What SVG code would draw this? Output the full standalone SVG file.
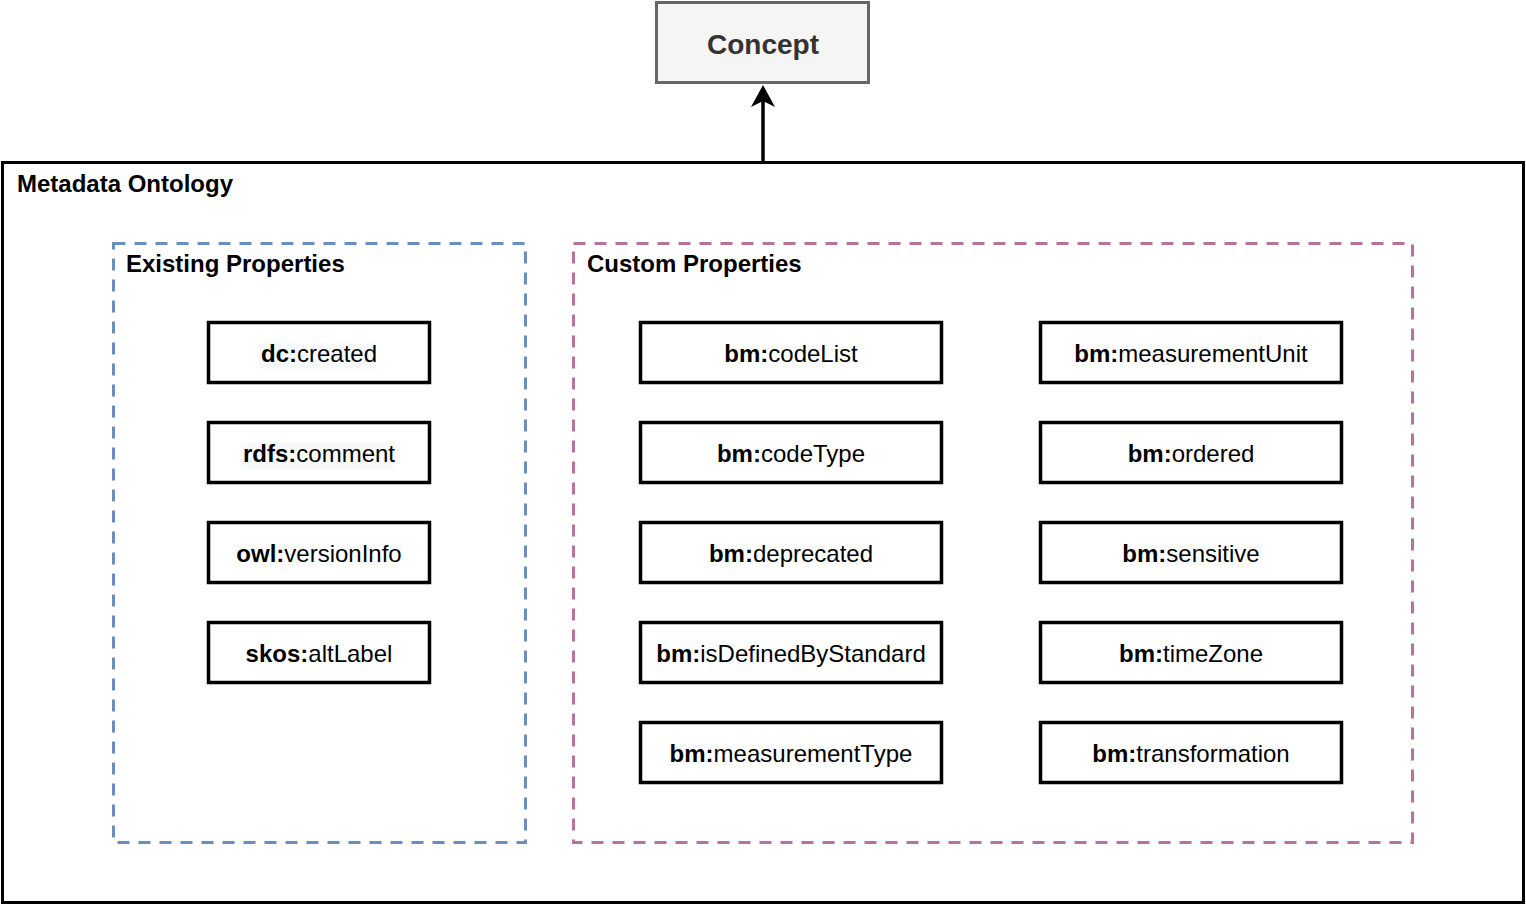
<svg xmlns="http://www.w3.org/2000/svg" width="1526" height="904" viewBox="0 0 1526 904">
  <style>
    text { font-family: "Liberation Sans", Arial, sans-serif; fill: #000; }
    .title { font-size: 24px; font-weight: bold; }
    .lbl { font-size: 24px; text-anchor: middle; }
    .lbl tspan.b { font-weight: bold; }
    .prop { fill: #fff; stroke: #000; stroke-width: 3.5; }
    .hl { fill: #f8f9fa; }
  </style>
  <defs>
    <!-- classic arrowhead pointing along +x, tip at x=22 -->
    <marker id="arrowHead" viewBox="0 0 22 24" refX="7" refY="12" markerWidth="22" markerHeight="24" markerUnits="userSpaceOnUse" orient="auto">
      <path d="M22 12 L0 0 L6 12 L0 24 Z" fill="#000"/>
    </marker>
  </defs>
  <rect width="1526" height="904" fill="#fff"/>

  <!-- Concept node -->
  <g id="concept">
    <rect x="656.5" y="2.5" width="212" height="80" fill="#f5f5f5" stroke="#666" stroke-width="3"/>
    <text x="763" y="54" font-size="28" font-weight="bold" text-anchor="middle" style="fill:#333">Concept</text>
  </g>

  <!-- Metadata Ontology container -->
  <g id="metadata-ontology">
    <rect x="2.5" y="162.5" width="1521" height="740" fill="none" stroke="#000" stroke-width="3"/>
    <text class="title" x="17" y="192">Metadata Ontology</text>
  </g>

  <!-- Connectors -->
  <g id="connectors">
    <path d="M763 161 L763 100" fill="none" stroke="#000" stroke-width="3.5" marker-end="url(#arrowHead)"/>
  </g>

  <!-- Existing properties group -->
  <g id="existing-properties">
    <rect x="113.5" y="243.5" width="412" height="599" fill="none" stroke="#6c8ebf" stroke-width="3" stroke-dasharray="12 9"/>
    <text class="title" x="126" y="272">Existing Properties</text>
  </g>

  <!-- Custom properties group -->
  <g id="custom-properties">
    <rect x="573.5" y="243.5" width="839" height="599" fill="none" stroke="#b5739d" stroke-width="3" stroke-dasharray="12 9"/>
    <text class="title" x="587" y="272">Custom Properties</text>
  </g>

  <!-- Existing property nodes -->
  <g id="dc-created">
    <rect class="prop" x="208.5" y="322.5" width="221" height="60"/>
    <rect class="hl" x="259" y="343" width="117" height="26"/>
    <text class="lbl" x="319" y="362"><tspan class="b">dc:</tspan>created</text>
  </g>
  <g id="rdfs-comment">
    <rect class="prop" x="208.5" y="422.5" width="221" height="60"/>
    <rect class="hl" x="241" y="443" width="154" height="26"/>
    <text class="lbl" x="319" y="462"><tspan class="b">rdfs:</tspan>comment</text>
  </g>
  <g id="owl-versionInfo">
    <rect class="prop" x="208.5" y="522.5" width="221" height="60"/>
    <text class="lbl" x="319" y="562"><tspan class="b">owl:</tspan>versionInfo</text>
  </g>
  <g id="skos-altLabel">
    <rect class="prop" x="208.5" y="622.5" width="221" height="60"/>
    <text class="lbl" x="319" y="662"><tspan class="b">skos:</tspan>altLabel</text>
  </g>

  <!-- Custom property nodes, left column -->
  <g id="bm-codeList">
    <rect class="prop" x="640.5" y="322.5" width="301" height="60"/>
    <text class="lbl" x="791" y="362"><tspan class="b">bm:</tspan>codeList</text>
  </g>
  <g id="bm-codeType">
    <rect class="prop" x="640.5" y="422.5" width="301" height="60"/>
    <text class="lbl" x="791" y="462"><tspan class="b">bm:</tspan>codeType</text>
  </g>
  <g id="bm-deprecated">
    <rect class="prop" x="640.5" y="522.5" width="301" height="60"/>
    <text class="lbl" x="791" y="562"><tspan class="b">bm:</tspan>deprecated</text>
  </g>
  <g id="bm-isDefinedByStandard">
    <rect class="prop" x="640.5" y="622.5" width="301" height="60"/>
    <text class="lbl" x="791" y="662"><tspan class="b">bm:</tspan>isDefinedByStandard</text>
  </g>
  <g id="bm-measurementType">
    <rect class="prop" x="640.5" y="722.5" width="301" height="60"/>
    <text class="lbl" x="791" y="762"><tspan class="b">bm:</tspan>measurementType</text>
  </g>

  <!-- Custom property nodes, right column -->
  <g id="bm-measurementUnit">
    <rect class="prop" x="1040.5" y="322.5" width="301" height="60"/>
    <text class="lbl" x="1191" y="362"><tspan class="b">bm:</tspan>measurementUnit</text>
  </g>
  <g id="bm-ordered">
    <rect class="prop" x="1040.5" y="422.5" width="301" height="60"/>
    <text class="lbl" x="1191" y="462"><tspan class="b">bm:</tspan>ordered</text>
  </g>
  <g id="bm-sensitive">
    <rect class="prop" x="1040.5" y="522.5" width="301" height="60"/>
    <text class="lbl" x="1191" y="562"><tspan class="b">bm:</tspan>sensitive</text>
  </g>
  <g id="bm-timeZone">
    <rect class="prop" x="1040.5" y="622.5" width="301" height="60"/>
    <text class="lbl" x="1191" y="662"><tspan class="b">bm:</tspan>timeZone</text>
  </g>
  <g id="bm-transformation">
    <rect class="prop" x="1040.5" y="722.5" width="301" height="60"/>
    <text class="lbl" x="1191" y="762"><tspan class="b">bm:</tspan>transformation</text>
  </g>
</svg>
